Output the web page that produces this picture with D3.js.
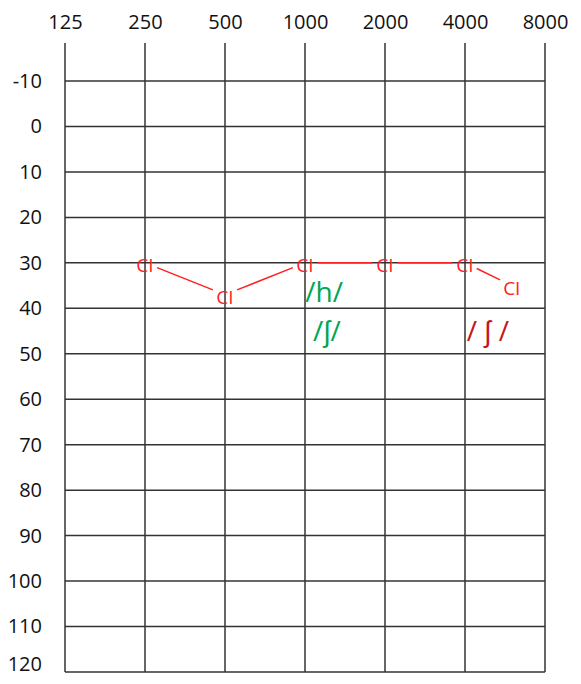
<!DOCTYPE html>
<html>
<head>
<meta charset="utf-8">
<script src="https://cdn.jsdelivr.net/npm/d3@7"></script>
<style>
  body { margin: 0; background: #fff; }
  text { font-family: "Open Sans", "Noto Sans", sans-serif; }
</style>
</head>
<body>
<div id="chart"></div>
<script>
// Audiogram data
var freqTicks = [125, 250, 500, 1000, 2000, 4000, 8000];
var dbTicks = [-10, 0, 10, 20, 30, 40, 50, 60, 70, 80, 90, 100, 110, 120];

var ciFreqs = [250, 500, 1000, 2000, 4000, 6000];
var ciLevels = [30, 37, 30, 30, 30, 35];

var soundLabels = ["/h/", "/ʃ/", "/ ʃ /"];
var soundFreqs = [1180, 1210, 4880];
var soundLevels = [36.5, 45, 45];
var soundColors = ["#00a651", "#00a651", "#c4161c"];

var svgWidth = 581;
var svgHeight = 684;

var svg = d3.select("#chart")
  .append("svg")
  .attr("width", svgWidth)
  .attr("height", svgHeight);

// scales
var x = d3.scaleLog().base(2)
  .domain([125, 8000])
  .range([65, 545]);

var y = d3.scaleLinear()
  .domain([-10, 120])
  .range([81, 672]);

var gridTop = 43;

// grid
var grid = svg.append("g");
grid.selectAll("line.v")
  .data(freqTicks)
  .enter()
  .append("line")
  .attr("x1", d => x(d))
  .attr("x2", d => x(d))
  .attr("y1", gridTop)
  .attr("y2", y(120))
  .attr("stroke", "#333")
  .attr("stroke-width", 1.5);

grid.selectAll("line.h")
  .data(dbTicks)
  .enter()
  .append("line")
  .attr("x1", x(125))
  .attr("x2", x(8000))
  .attr("y1", d => y(d))
  .attr("y2", d => y(d))
  .attr("stroke", "#333")
  .attr("stroke-width", 1.5);

// axes (labels only)
var topAxis = d3.axisTop(x)
  .tickValues(freqTicks)
  .tickFormat(d => String(d))
  .tickSize(0)
  .tickPadding(14);

var leftAxis = d3.axisLeft(y)
  .tickValues(dbTicks)
  .tickFormat(d => String(d))
  .tickSize(0)
  .tickPadding(23);

var gTop = svg.append("g")
  .attr("transform", `translate(0, ${gridTop})`)
  .call(topAxis);

var gLeft = svg.append("g")
  .attr("transform", `translate(${x(125)}, 0)`)
  .call(leftAxis);

[gTop, gLeft].forEach(function(g) {
  g.select(".domain").remove();
  g.selectAll("text")
    .attr("font-family", "Open Sans, Noto Sans, sans-serif")
    .attr("font-size", 20)
    .attr("fill", "#111");
});

// keep the last label inside the picture
gLeft.selectAll(".tick")
  .filter(d => d === 120)
  .select("text")
  .attr("dy", "-0.1em");

// CI connecting lines, trimmed around the symbols
var gap = 13;
var ciPts = ciFreqs.map((f, i) => [x(f), y(ciLevels[i])]);
var segs = d3.pairs(ciPts).map(function(p) {
  var dx = p[1][0] - p[0][0], dy = p[1][1] - p[0][1];
  var len = Math.sqrt(dx * dx + dy * dy);
  var ux = dx / len, uy = dy / len;
  return [p[0][0] + ux * gap, p[0][1] + uy * gap, p[1][0] - ux * gap, p[1][1] - uy * gap];
});

svg.append("g")
  .selectAll("line")
  .data(segs)
  .enter()
  .append("line")
  .attr("x1", d => d[0])
  .attr("y1", d => d[1])
  .attr("x2", d => d[2])
  .attr("y2", d => d[3])
  .attr("stroke", "#ff2020")
  .attr("stroke-width", 1.5);

// CI symbols
svg.append("g")
  .selectAll("text")
  .data(ciFreqs)
  .enter()
  .append("text")
  .attr("x", d => x(d))
  .attr("y", (d, i) => y(ciLevels[i]) + 3)
  .attr("dy", "0.35em")
  .attr("text-anchor", "middle")
  .attr("font-size", 19)
  .attr("fill", "#ff2020")
  .text("CI");

// speech sounds
svg.append("g")
  .selectAll("text")
  .data(soundLabels)
  .enter()
  .append("text")
  .attr("x", (d, i) => x(soundFreqs[i]))
  .attr("y", (d, i) => y(soundLevels[i]))
  .attr("dy", "0.35em")
  .attr("text-anchor", "middle")
  .attr("font-size", 28)
  .attr("fill", (d, i) => soundColors[i])
  .text(d => d);
</script>
</body>
</html>
